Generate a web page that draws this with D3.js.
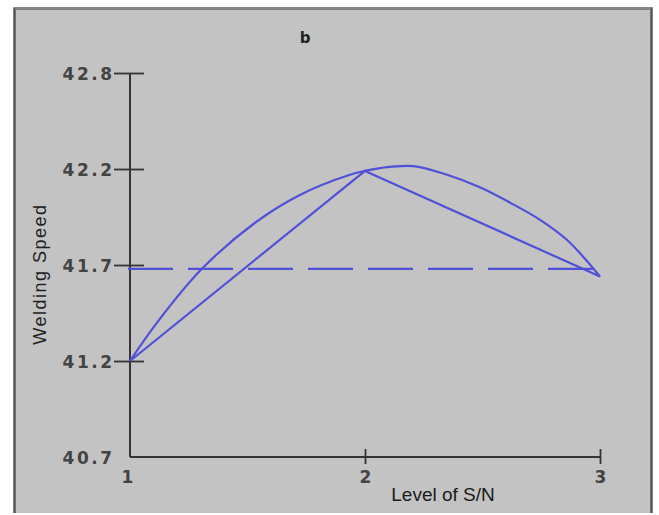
<!DOCTYPE html>
<html>
<head>
<meta charset="utf-8">
<script src="https://cdn.jsdelivr.net/npm/d3@7"></script>
<style>
  html, body { margin: 0; padding: 0; background: #fff; }
  svg { display: block; }
</style>
</head>
<body>
<svg id="chart"></svg>
<script>
// Main effects plot (S/N) - welding speed

// levels and mean S/N per level
const levels = [1, 2, 3];
const levelMeans = [41.2, 42.19, 41.64];
const grandMean = 41.68;

// fitted curve
const curveX = [1, 1.115, 1.306, 1.532, 1.723, 1.936, 2.0, 2.064, 2.204, 2.349, 2.489, 2.617, 2.745, 2.86, 2.945, 3];
const curveY = [41.2, 41.4, 41.68, 41.92, 42.065, 42.17, 42.19, 42.205, 42.215, 42.17, 42.105, 42.025, 41.935, 41.83, 41.72, 41.64];

// axis ticks
const yTickValues = [40.7, 41.2, 41.7, 42.2, 42.7];
const yTickLabels = ["40.7", "41.2", "41.7", "42.2", "42.8"];
const xTickValues = [1, 2, 3];

const W = 659, H = 515;
const lineColor = "#5050d8";
const axisColor = "#333";
const labelColor = "#444";

const svg = d3.select("#chart")
    .attr("width", W)
    .attr("height", H);

// gray panel with frame
svg.append("rect")
    .attr("x", 14).attr("y", 8)
    .attr("width", 638).attr("height", 505)
    .attr("fill", "#c3c3c3");

svg.append("path")
    .attr("d", "M14.5,513 V8.5 H651.5 V513")
    .attr("fill", "none")
    .attr("stroke", "#555")
    .attr("stroke-width", 2.5);

svg.append("line")
    .attr("x1", 15).attr("x2", 651)
    .attr("y1", 8.5).attr("y2", 8.5)
    .attr("stroke", "#8a8a8a")
    .attr("stroke-width", 2);

// scales
const x = d3.scaleLinear().domain([1, 3]).range([130, 600]);
const y = d3.scaleLinear().domain([40.7, 42.7]).range([457, 73]);

// y axis
const yAxis = svg.append("g")
    .attr("transform", "translate(130,0)")
    .call(d3.axisLeft(y)
        .tickValues(yTickValues)
        .tickFormat((d, i) => yTickLabels[i])
        .tickSize(0)
        .tickPadding(0));

yAxis.select(".domain").remove();
yAxis.selectAll(".tick text").remove();

yAxis.append("line")
    .attr("x1", 0).attr("x2", 0)
    .attr("y1", y(42.7)).attr("y2", y(40.7))
    .attr("stroke", axisColor)
    .attr("stroke-width", 2);

yAxis.selectAll(".tick")
    .filter(d => d !== 40.7)
    .append("line")
    .attr("x1", -16).attr("x2", 14)
    .attr("stroke", axisColor)
    .attr("stroke-width", 1.8);

yAxis.selectAll(".tick")
    .append("text")
    .attr("x", -18 + 2.5)
    .attr("dy", "0.36em")
    .attr("text-anchor", "end")
    .attr("fill", labelColor)
    .style("font", "bold 17px 'DejaVu Sans', Verdana, sans-serif")
    .style("letter-spacing", "2.5px")
    .text((d, i) => yTickLabels[i]);

// x axis
const xAxis = svg.append("g")
    .attr("transform", `translate(0,${y(40.7)})`)
    .call(d3.axisBottom(x)
        .tickValues(xTickValues)
        .tickFormat(d3.format("d"))
        .tickSize(0)
        .tickPadding(0));

xAxis.select(".domain").remove();
xAxis.selectAll(".tick text").remove();

xAxis.append("line")
    .attr("x1", x(1)).attr("x2", x(3))
    .attr("stroke", axisColor)
    .attr("stroke-width", 2);

xAxis.selectAll(".tick")
    .filter(d => d !== 1)
    .append("line")
    .attr("y1", -8).attr("y2", 7)
    .attr("stroke", axisColor)
    .attr("stroke-width", 1.8);

xAxis.selectAll(".tick")
    .append("text")
    .attr("x", d => d === 1 ? -3 : 0)
    .attr("y", 26)
    .attr("text-anchor", "middle")
    .attr("fill", labelColor)
    .style("font", "bold 17px 'DejaVu Sans', Verdana, sans-serif")
    .text(d => d);

// axis titles
svg.append("text")
    .attr("transform", "translate(46,274) rotate(-90)")
    .attr("text-anchor", "middle")
    .attr("fill", "#222")
    .style("font", "18px 'Liberation Sans', Arial, sans-serif")
    .style("letter-spacing", "1.5px")
    .text("Welding Speed");

svg.append("text")
    .attr("x", 443)
    .attr("y", 501)
    .attr("text-anchor", "middle")
    .attr("fill", "#1a1a1a")
    .style("font", "19px 'Liberation Sans', Arial, sans-serif")
    .text("Level of S/N");

svg.append("text")
    .attr("x", 305)
    .attr("y", 43)
    .attr("text-anchor", "middle")
    .attr("fill", "#222")
    .style("font", "bold 15px 'DejaVu Sans', Verdana, sans-serif")
    .text("b");

// grand mean (dashed)
svg.append("line")
    .attr("x1", x(1) - 2).attr("x2", x(3) - 2)
    .attr("y1", y(grandMean)).attr("y2", y(grandMean))
    .attr("stroke", lineColor)
    .attr("stroke-width", 2.2)
    .attr("stroke-dasharray", "45,15");

// fitted curve
const curveData = curveX.map((d, i) => ({ x: d, y: curveY[i] }));
const smooth = d3.line()
    .x(d => x(d.x))
    .y(d => y(d.y))
    .curve(d3.curveCatmullRom.alpha(0.5));

svg.append("path")
    .datum(curveData)
    .attr("d", smooth)
    .attr("fill", "none")
    .attr("stroke", lineColor)
    .attr("stroke-width", 2.2)
    .attr("stroke-linejoin", "round");

// level means
const line = d3.line()
    .x(d => x(d.x))
    .y(d => y(d.y));

const meanData = levels.map((d, i) => ({ x: d, y: levelMeans[i] }));
svg.append("path")
    .datum(meanData)
    .attr("d", line)
    .attr("fill", "none")
    .attr("stroke", lineColor)
    .attr("stroke-width", 2.2)
    .attr("stroke-linejoin", "round");
</script>
</body>
</html>
